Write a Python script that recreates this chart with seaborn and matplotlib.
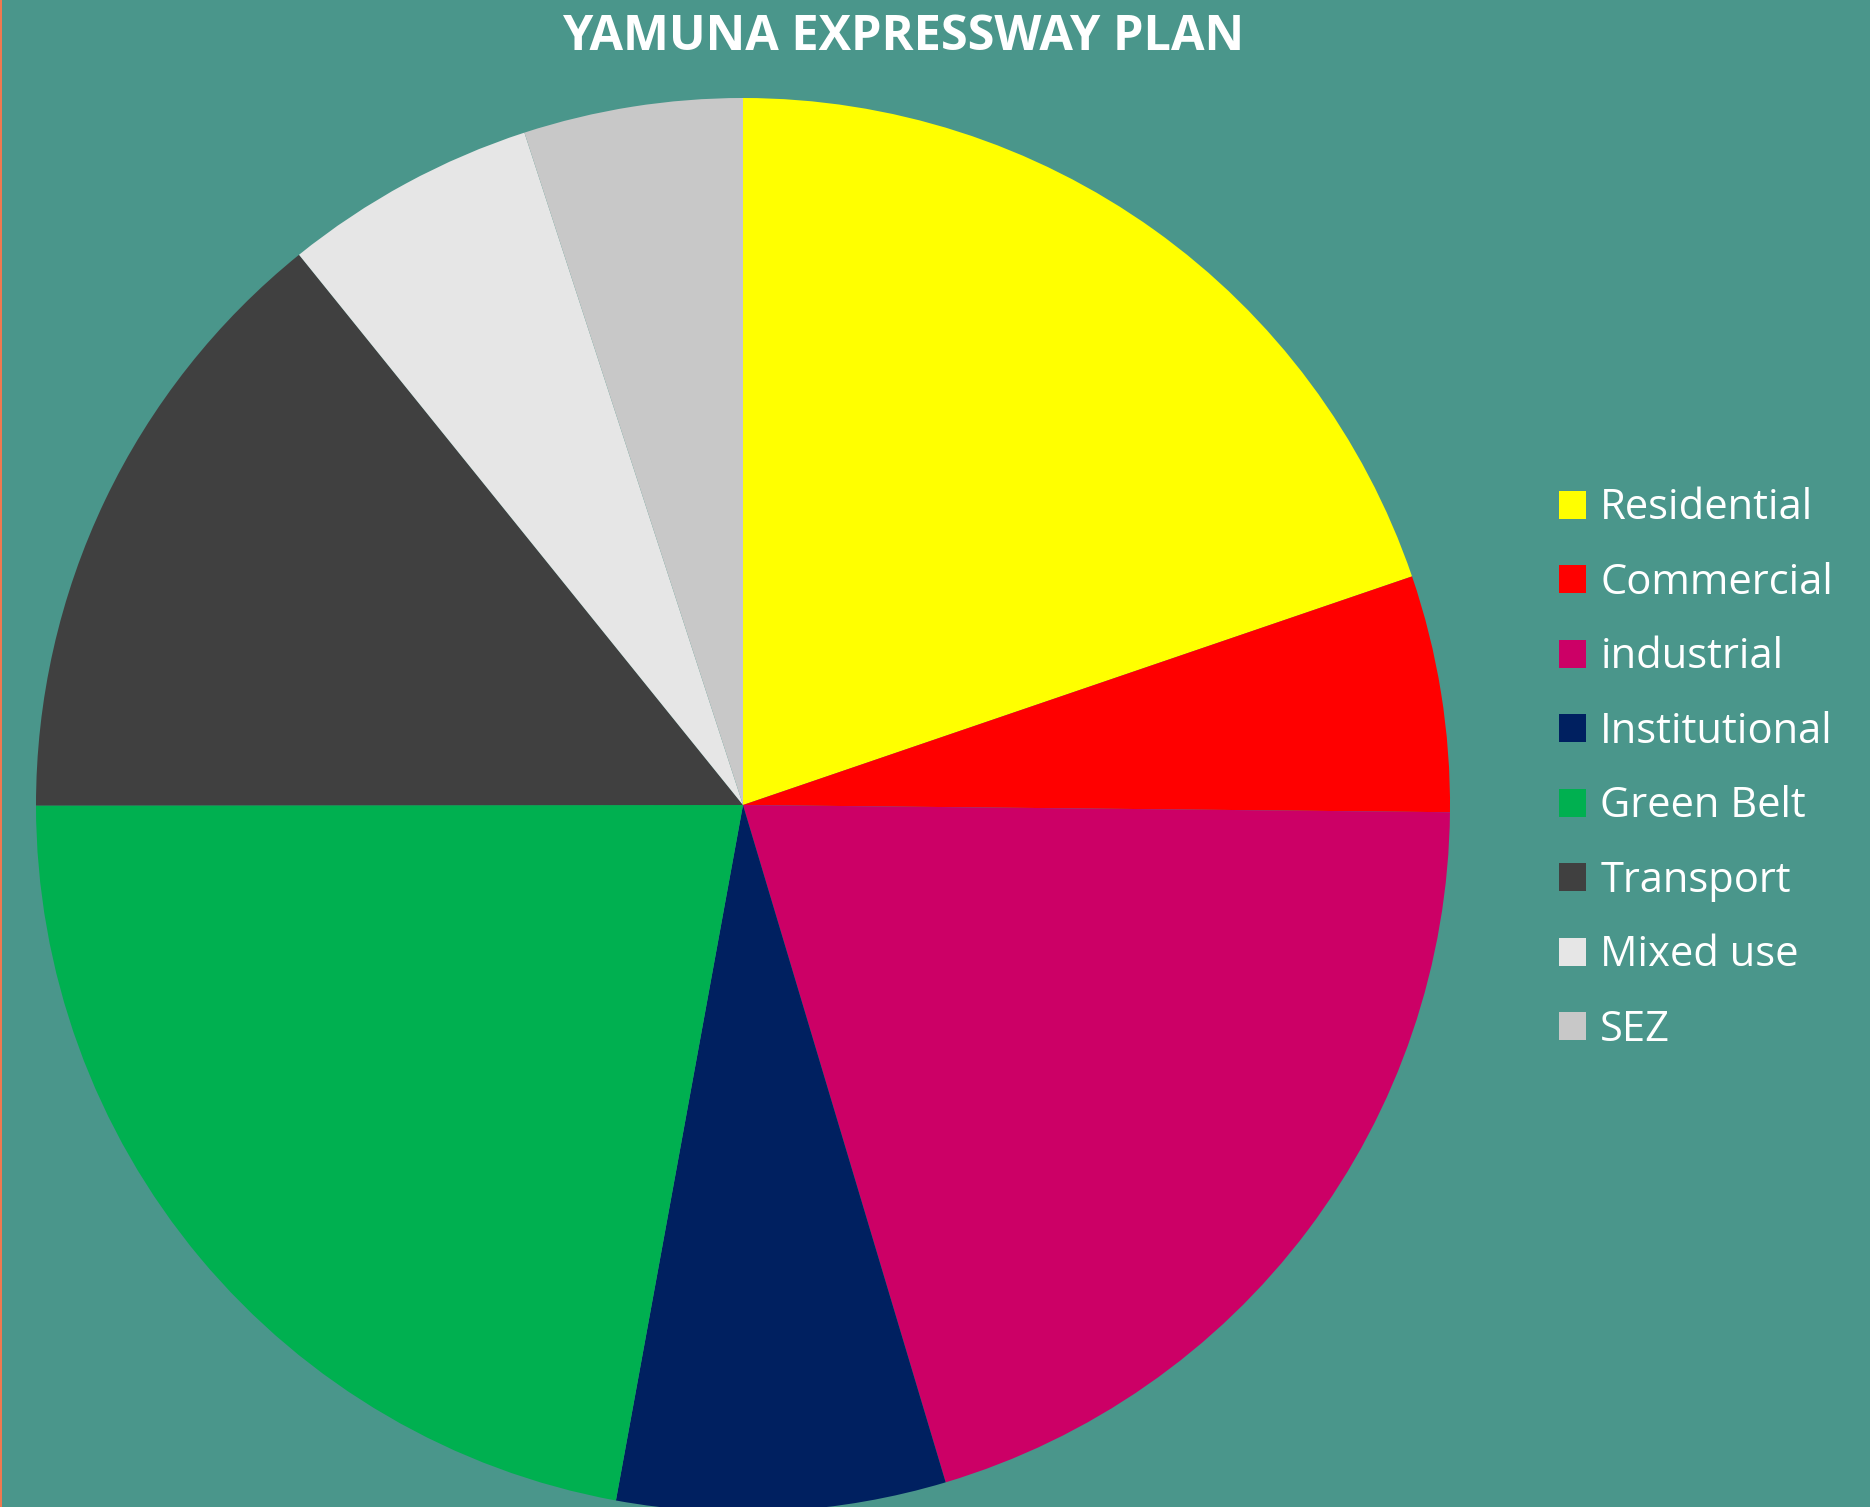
import matplotlib
matplotlib.use("Agg")
import matplotlib.pyplot as plt
import matplotlib.patches as mpatches
import seaborn as sns

# --- data (shares, %) ---
categories = ["Residential", "Commercial", "industrial", "Institutional",
              "Green Belt", "Transport", "Mixed use", "SEZ"]
shares = [19.75, 5.4, 20.2, 7.5, 22.1, 14.2, 5.8, 5.0]
colors = ["#FFFF00", "#FF0000", "#CC0066", "#002060",
          "#00B050", "#404040", "#E6E6E6", "#C8C8C8"]
title = "YAMUNA EXPRESSWAY PLAN"

BG = "#4A968B"
W, H = 1870, 1507

sns.set_style("white")
plt.rcParams["font.family"] = ["Open Sans", "DejaVu Sans"]

fig = plt.figure(figsize=(W / 100, H / 100), dpi=100, facecolor=BG)

# pie centred at (743, 805) px with radius 707 px
cx, cy, r = 743, 805, 707
ax = fig.add_axes([(cx - r) / W, (H - cy - r) / H, 2 * r / W, 2 * r / H])
ax.set_facecolor(BG)
wedges, _ = ax.pie(shares, colors=sns.color_palette(colors), startangle=90,
                   counterclock=False, radius=1,
                   wedgeprops=dict(linewidth=0, antialiased=True))
ax.set_xlim(-1, 1)
ax.set_ylim(-1, 1)
ax.axis("off")
for w in wedges:
    w.set_clip_on(False)

# title
fig.text(903 / W, 1 - 37 / H, title, ha="center", va="center",
         color="white", fontsize=35, fontweight="bold")

# legend
handles = [mpatches.Patch(facecolor=c, edgecolor="none") for c in colors]
fig.legend(handles, categories, loc="center left",
           bbox_to_anchor=(1559 / W, 1 - 769 / H), frameon=False,
           fontsize=30, labelcolor="white", handlelength=0.65,
           handleheight=0.65, handletextpad=0.34, labelspacing=0.78,
           borderpad=0, borderaxespad=0)

# thin orange line on the left edge
fig.add_artist(mpatches.Rectangle((0, 0), 2 / W, 1, transform=fig.transFigure,
                                  facecolor="#F07850", edgecolor="none"))

fig.savefig("out.png", dpi=100, facecolor=BG)
